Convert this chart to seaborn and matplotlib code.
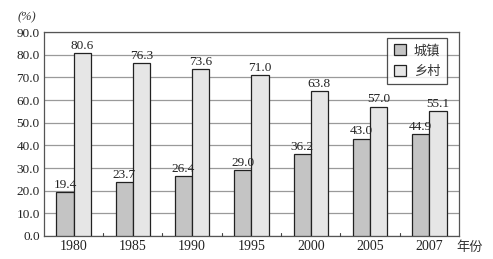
import matplotlib
matplotlib.use("Agg")
import matplotlib.pyplot as plt
import seaborn as sns
import pandas as pd

years = ["1980", "1985", "1990", "1995", "2000", "2005", "2007"]
urban = [19.4, 23.7, 26.4, 29.0, 36.2, 43.0, 44.9]
rural = [80.6, 76.3, 73.6, 71.0, 63.8, 57.0, 55.1]
series_names = ["城镇", "乡村"]
yticks = [0, 10, 20, 30, 40, 50, 60, 70, 80, 90]

df = pd.DataFrame({
    "year": years * 2,
    "value": urban + rural,
    "series": [series_names[0]] * len(years) + [series_names[1]] * len(years),
})

sns.set_theme(style="white")
plt.rcParams['font.family'] = ['Liberation Serif', 'Noto Sans CJK SC', 'DejaVu Sans']

fig = plt.figure(figsize=(4.93, 2.59), dpi=100)
ax = fig.add_axes([0.089, 0.089, 0.842, 0.787])

palette = {series_names[0]: "#c4c4c4", series_names[1]: "#e6e6e6"}
sns.barplot(data=df, x="year", y="value", hue="series", palette=palette,
            width=0.58, edgecolor="#222222", linewidth=0.9, ax=ax, zorder=3,
            saturation=1)

ax.set_ylim(0, 90)
ax.set_xlim(-0.5, len(years) - 0.5)
ax.set_yticks(yticks)
ax.set_yticklabels([f"{v:.1f}" for v in yticks], fontsize=9.5)
ax.set_xticklabels(years, fontsize=10)
ax.set_xlabel("")
ax.set_ylabel("")
ax.yaxis.grid(True, color="#9a9a9a", linewidth=0.9, zorder=0)
ax.set_axisbelow(True)
ax.tick_params(axis="both", length=0, pad=3, colors="#222222")

# small ticks between groups
for i in range(1, len(years)):
    ax.plot([i - 0.5, i - 0.5], [0, 1.5], color="#444444", linewidth=0.8, zorder=4, clip_on=False)

for sp in ax.spines.values():
    sp.set_color("#555555")
    sp.set_linewidth(0.9)

for cont in ax.containers:
    ax.bar_label(cont, labels=[f"{v:.1f}" for v in cont.datavalues], fontsize=9.5, padding=1, color="#222222")

leg = ax.legend(loc="upper right", bbox_to_anchor=(0.971, 0.972), borderaxespad=0, fontsize=9.5, frameon=True,
                fancybox=False, edgecolor="#222222", handlelength=0.9, handleheight=0.9,
                borderpad=0.5, labelspacing=0.55, handletextpad=0.6)
leg.get_frame().set_linewidth(0.9)
for t in leg.get_texts():
    t.set_family(['Noto Sans CJK SC', 'DejaVu Sans'])
    t.set_color("#333333")

fig.text(0.035, 0.92, "(%)", fontsize=9, style="italic", color="#333333")
fig.text(0.925, 0.03, "年份", fontsize=9.5, color="#333333", family=['Noto Sans CJK SC', 'DejaVu Sans'])

fig.savefig("out.png", dpi=100)
